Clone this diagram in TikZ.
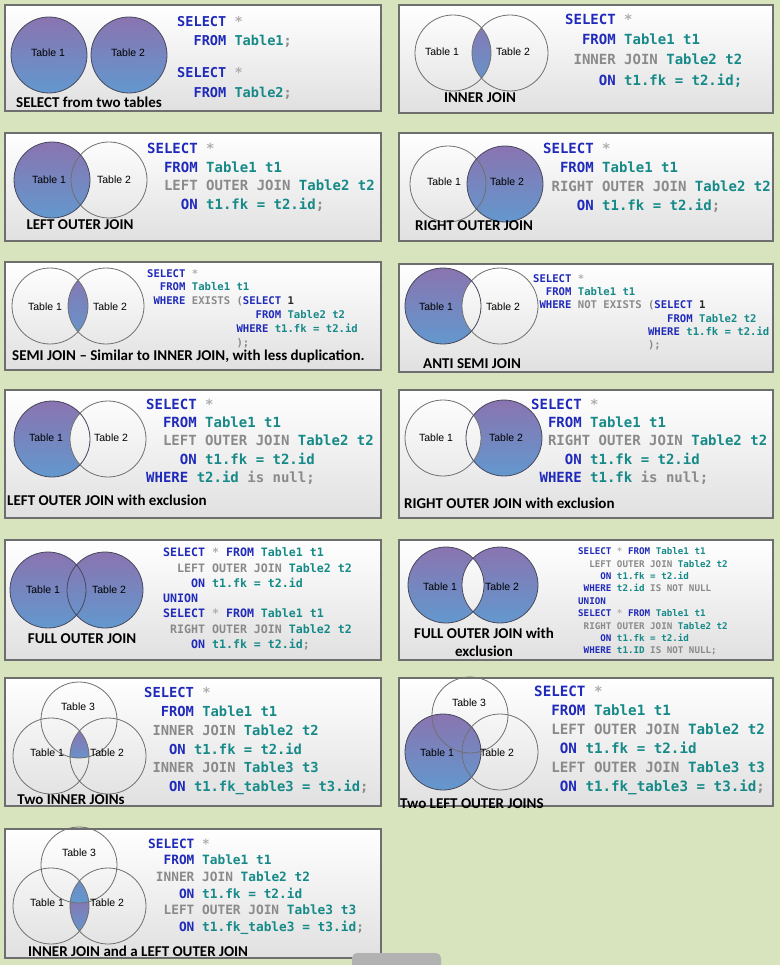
\documentclass[tikz,border=0pt]{standalone}
\usepackage{fontspec}
\setmainfont{Carlito}
\newfontfamily\codefont{DejaVu Sans Mono}
\newfontfamily\tabfont{Liberation Sans}
\definecolor{bggreen}{RGB}{215,228,189}
\definecolor{framegray}{RGB}{110,110,110}
\definecolor{panelgray}{RGB}{224,224,224}
\definecolor{venntop}{RGB}{138,116,176}
\definecolor{vennbot}{RGB}{98,152,206}
\definecolor{ringdark}{RGB}{72,72,92}
\definecolor{ringgray}{RGB}{112,112,112}
\definecolor{kwblue}{RGB}{32,42,186}
\definecolor{tabteal}{RGB}{22,138,136}
\definecolor{joingray}{RGB}{138,138,138}
\definecolor{stargray}{RGB}{175,175,175}
\definecolor{onegray}{RGB}{40,40,40}

\newcommand{\kw}[1]{\textcolor{kwblue}{#1}}
\newcommand{\tb}[1]{\textcolor{tabteal}{#1}}
\newcommand{\jn}[1]{\textcolor{joingray}{#1}}
\newcommand{\str}{\textcolor{stargray}{*}}
\newcommand{\semi}{\textcolor{joingray}{;}}
\newcommand{\ind}[1]{\hskip#1\fontcharwd\font`0\relax}
\newcommand{\codesize}[2]{\codefont\bfseries\fontsize{#1}{#2}\selectfont\frenchspacing}

\begin{document}
\begin{tikzpicture}[x=1pt, y=-1pt,
    panelbg/.style={top color=white, bottom color=panelgray},
    panelframe/.style={draw=framegray, line width=1.2pt},
    venn/.style={top color=venntop, bottom color=vennbot},
    ring/.style={draw=ringgray, line width=0.8pt},
    darkring/.style={draw=ringdark, line width=0.8pt},
    tlabel/.style={font=\tabfont\fontsize{10.5}{11}\selectfont, inner sep=0},
    caption/.style={font=\bfseries\fontsize{15}{16}\selectfont, inner sep=0, anchor=base},
    sqlcode/.style={anchor=north west, inner sep=0, align=left}
  ]
  \fill[bggreen] (0,0) rectangle (780,965);
  \useasboundingbox (0,0) rectangle (780,965);

  % panels
  \foreach \xa/\ya/\xb/\yb in {5/5/381/111, 399/5/773/113, 5/133/381/241, 399/133/773/241,
      5/262/381/370, 399/264/773/372, 5/390/381/518, 399/390/773/518,
      5/540/381/660, 399/540/773/660, 5/678/381/806, 399/678/773/806, 5/829/381/958}{
    \shade[panelbg] (\xa,\ya) rectangle (\xb,\yb);
    \draw[panelframe] (\xa,\ya) rectangle (\xb,\yb);
  }

  % circle centres
  \coordinate (p1a) at (49,55);   \coordinate (p1b) at (129,55);
  \coordinate (p2a) at (453,53);  \coordinate (p2b) at (510,53);
  \coordinate (p3a) at (52,180);  \coordinate (p3b) at (109,180);
  \coordinate (p4a) at (448,184); \coordinate (p4b) at (505,184);
  \coordinate (p5a) at (50,306);  \coordinate (p5b) at (106,306);
  \coordinate (p6a) at (443,306); \coordinate (p6b) at (500,306);
  \coordinate (p7a) at (52,439);  \coordinate (p7b) at (108,439);
  \coordinate (p8a) at (443,438); \coordinate (p8b) at (504,438);
  \coordinate (p9a) at (48,590);  \coordinate (p9b) at (105,590);
  \coordinate (p10a) at (446,585); \coordinate (p10b) at (500,585);
  \coordinate (p11a) at (51,756); \coordinate (p11b) at (108,756); \coordinate (p11c) at (79,720);
  \coordinate (p12a) at (443,752); \coordinate (p12b) at (500,752); \coordinate (p12c) at (470,715);
  \coordinate (p13a) at (51,906); \coordinate (p13b) at (108,906); \coordinate (p13c) at (79,865);

  % shaded parts
  \shade[venn] (p1a) circle (38);
  \shade[venn] (p1b) circle (38);
  \begin{scope}
    \clip (p2b) circle (38);
    \shade[venn] (p2a) circle (38);
  \end{scope}
  \shade[venn] (p3a) circle (38);
  \shade[venn] (p4b) circle (38);
  \begin{scope}
    \clip (p5b) circle (38);
    \shade[venn] (p5a) circle (38);
  \end{scope}
  \shade[venn] (p6a) circle (38);
  \begin{scope}
    \clip (p6a) circle (38);
    \clip (p6b) circle (38);
    \shade[panelbg] (399,264) rectangle (773,372);
  \end{scope}
  \shade[venn] (p7a) circle (38);
  \begin{scope}
    \clip (p7a) circle (38);
    \clip (p7b) circle (38);
    \shade[panelbg] (5,390) rectangle (381,518);
  \end{scope}
  \shade[venn] (p8b) circle (38);
  \begin{scope}
    \clip (p8a) circle (38);
    \clip (p8b) circle (38);
    \shade[panelbg] (399,390) rectangle (773,518);
  \end{scope}
  \shade[venn] (p9a) circle (38);
  \shade[venn] (p9b) circle (38);
  \shade[venn] (p10a) circle (38);
  \shade[venn] (p10b) circle (38);
  \begin{scope}
    \clip (p10a) circle (38);
    \clip (p10b) circle (38);
    \shade[panelbg] (399,540) rectangle (773,660);
  \end{scope}
  \begin{scope}
    \clip (p11a) circle (38);
    \clip (p11b) circle (38);
    \clip (p11c) circle (38);
    \shade[venn] (60,728) rectangle (100,765);
  \end{scope}
  \shade[venn] (p12a) circle (38);
  \begin{scope}
    \clip (p13a) circle (38);
    \clip (p13b) circle (38);
    \shade[venn] (45,895) rectangle (115,935);
    \clip (p13c) circle (38);
    \shade[venn] (p13c) circle (38);
  \end{scope}

  % outlines
  \draw[darkring] (p1a) circle (38) (p1b) circle (38);
  \draw[ring] (p2a) circle (38) (p2b) circle (38);
  \draw[ring] (p3b) circle (38);
  \draw[darkring] (p3a) circle (38);
  \draw[ring] (p4a) circle (38);
  \draw[darkring] (p4b) circle (38);
  \draw[ring] (p5a) circle (38) (p5b) circle (38);
  \draw[ring] (p6b) circle (38);
  \draw[darkring] (p6a) circle (38);
  \draw[ring] (p7b) circle (38);
  \draw[darkring] (p7a) circle (38);
  \draw[ring] (p8a) circle (38);
  \draw[darkring] (p8b) circle (38);
  \draw[darkring] (p9a) circle (38) (p9b) circle (38);
  \draw[darkring] (p10a) circle (38) (p10b) circle (38);
  \draw[ring] (p11a) circle (38) (p11b) circle (38) (p11c) circle (38);
  \draw[darkring] (p12a) circle (38);
  \draw[ring] (p12b) circle (38) (p12c) circle (38);
  \draw[ring] (p13a) circle (38) (p13b) circle (38) (p13c) circle (38);

  % table names
  \node[tlabel] (p1t1) at (48,53) {Table 1};
  \node[tlabel] (p1t2) at (128,53) {Table 2};
  \node[tlabel] (p2t1) at (442,52) {Table 1};
  \node[tlabel] (p2t2) at (513,52) {Table 2};
  \node[tlabel] (p3t1) at (49,180) {Table 1};
  \node[tlabel] (p3t2) at (114,180) {Table 2};
  \node[tlabel] (p4t1) at (444,182) {Table 1};
  \node[tlabel] (p4t2) at (507,182) {Table 2};
  \node[tlabel] (p5t1) at (45,307) {Table 1};
  \node[tlabel] (p5t2) at (110,307) {Table 2};
  \node[tlabel] (p6t1) at (436,307) {Table 1};
  \node[tlabel] (p6t2) at (503,307) {Table 2};
  \node[tlabel] (p7t1) at (46,438) {Table 1};
  \node[tlabel] (p7t2) at (111,438) {Table 2};
  \node[tlabel] (p8t1) at (436,438) {Table 1};
  \node[tlabel] (p8t2) at (506,438) {Table 2};
  \node[tlabel] (p9t1) at (43,590) {Table 1};
  \node[tlabel] (p9t2) at (109,590) {Table 2};
  \node[tlabel] (p10t1) at (440,587) {Table 1};
  \node[tlabel] (p10t2) at (502,587) {Table 2};
  \node[tlabel] (p11t3) at (78,707) {Table 3};
  \node[tlabel] (p11t1) at (47,753) {Table 1};
  \node[tlabel] (p11t2) at (107,753) {Table 2};
  \node[tlabel] (p12t3) at (469,703) {Table 3};
  \node[tlabel] (p12t1) at (437,753) {Table 1};
  \node[tlabel] (p12t2) at (497,753) {Table 2};
  \node[tlabel] (p13t3) at (79,853) {Table 3};
  \node[tlabel] (p13t1) at (47,903) {Table 1};
  \node[tlabel] (p13t2) at (107,903) {Table 2};

  % captions
  \node[caption] (cap1) at (89,108) {SELECT from two tables};
  \node[caption] (cap2) at (480,103) {INNER JOIN};
  \node[caption] (cap3) at (80,230) {LEFT OUTER JOIN};
  \node[caption] (cap4) at (474,231) {RIGHT OUTER JOIN};
  \node[caption, anchor=base west] (cap5) at (12,360) {SEMI JOIN -- Similar to INNER JOIN, with less duplication.};
  \node[caption, anchor=base west] (cap6) at (423,368) {ANTI SEMI JOIN};
  \node[caption, anchor=base west] (cap7) at (7,505) {LEFT OUTER JOIN with exclusion};
  \node[caption, anchor=base west] (cap8) at (404,508) {RIGHT OUTER JOIN with exclusion};
  \node[caption] (cap9) at (82,643) {FULL OUTER JOIN};
  \node[caption, anchor=north, align=center, font=\bfseries\fontsize{15}{17.5}\selectfont] (cap10) at (484,628) {FULL OUTER JOIN with\\exclusion};
  \node[caption] (cap11) at (71,804) {Two INNER JOINs};
  \node[caption, anchor=base west] (cap12) at (400,808) {Two LEFT OUTER JOINS};
  \node[caption, anchor=base west] (cap13) at (28,956) {INNER JOIN and a LEFT OUTER JOIN};

  % sql text
  \node[sqlcode, font=\codesize{13.6}{19.5}] (code1) at (177,16) {\kw{SELECT} \str{}\\
    ~~\kw{FROM} \tb{Table1}\semi\\[12.5pt]
    \kw{SELECT} \str{}\\
    ~~\kw{FROM} \tb{Table2}\semi};
  \node[sqlcode, font=\codesize{14}{20.3}] (code2) at (565,13.8) {\kw{SELECT} \str{}\\
    ~~\kw{FROM} \tb{Table1 t1}\\
    ~\jn{INNER JOIN} \tb{Table2 t2}\\
    ~~~~\kw{ON} \tb{t1.fk = t2.id;}};
  \node[sqlcode, font=\codesize{14}{18.7}] (code3) at (147,142.8) {\kw{SELECT} \str{}\\
    ~~\kw{FROM} \tb{Table1 t1}\\
    ~~\jn{LEFT OUTER JOIN} \tb{Table2 t2}\\
    ~~~~\kw{ON} \tb{t1.fk = t2.id}\semi};
  \node[sqlcode, font=\codesize{14}{19.2}] (code4) at (543,142.8) {\kw{SELECT} \str{}\\
    ~~\kw{FROM} \tb{Table1 t1}\\
    ~\jn{RIGHT OUTER JOIN} \tb{Table2 t2}\\
    ~~~~\kw{ON} \tb{t1.fk = t2.id}\semi};
  \node[sqlcode, font=\codesize{10.6}{13.8}] (code5) at (147,269.1) {\kw{SELECT} \str{}\\
    ~~\kw{FROM} \tb{Table1 t1}\\
    ~\kw{WHERE} \jn{EXISTS (}\kw{SELECT} \textcolor{onegray}{1}\\
    \ind{17}\kw{FROM} \tb{Table2 t2}\\
    \ind{14}\kw{WHERE} \tb{t1.fk = t2.id}\\
    \ind{14}\jn{);}};
  \node[sqlcode, font=\codesize{10.6}{13.3}] (code6) at (533,274.1) {\kw{SELECT} \str{}\\
    ~~\kw{FROM} \tb{Table1 t1}\\
    ~\kw{WHERE} \jn{NOT EXISTS (}\kw{SELECT} \textcolor{onegray}{1}\\
    \ind{21}\kw{FROM} \tb{Table2 t2}\\
    \ind{18}\kw{WHERE} \tb{t1.fk = t2.id}\\
    \ind{18}\jn{);}};
  \node[sqlcode, font=\codesize{14}{18.3}] (code7) at (146,398.8) {\kw{SELECT} \str{}\\
    ~~\kw{FROM} \tb{Table1 t1}\\
    ~~\jn{LEFT OUTER JOIN} \tb{Table2 t2}\\
    ~~~~\kw{ON} \tb{t1.fk = t2.id}\\
    \kw{WHERE} \tb{t2.id} \jn{is null;}};
  \node[sqlcode, font=\codesize{14}{18.3}] (code8) at (531,398.8) {\kw{SELECT} \str{}\\
    ~~\kw{FROM} \tb{Table1 t1}\\
    ~~\jn{RIGHT OUTER JOIN} \tb{Table2 t2}\\
    ~~~~\kw{ON} \tb{t1.fk = t2.id}\\
    ~\kw{WHERE} \tb{t1.fk} \jn{is null;}};
  \node[sqlcode, font=\codesize{11.6}{15.3}] (code9) at (163,547.7) {\kw{SELECT} \str{} \kw{FROM} \tb{Table1 t1}\\
    ~~\jn{LEFT OUTER JOIN} \tb{Table2 t2}\\
    ~~~~\kw{ON} \tb{t1.fk = t2.id}\\
    \kw{UNION}\\
    \kw{SELECT} \str{} \kw{FROM} \tb{Table1 t1}\\
    ~\jn{RIGHT OUTER JOIN} \tb{Table2 t2}\\
    ~~~~\kw{ON} \tb{t1.fk = t2.id}\semi};
  \node[sqlcode, font=\codesize{9.2}{12.4}] (code10) at (578,547.6) {\kw{SELECT} \str{} \kw{FROM} \tb{Table1 t1}\\
    ~~\jn{LEFT OUTER JOIN} \tb{Table2 t2}\\
    ~~~~\kw{ON} \tb{t1.fk = t2.id}\\
    ~\kw{WHERE} \tb{t2.id} \jn{IS NOT NULL}\\
    \kw{UNION}\\
    \kw{SELECT} \str{} \kw{FROM} \tb{Table1 t1}\\
    ~\jn{RIGHT OUTER JOIN} \tb{Table2 t2}\\
    ~~~~\kw{ON} \tb{t1.fk = t2.id}\\
    ~\kw{WHERE} \tb{t1.ID} \jn{IS NOT NULL;}};
  \node[sqlcode, font=\codesize{13.8}{18.9}] (code11) at (144,686.9) {\kw{SELECT} \str{}\\
    ~~\kw{FROM} \tb{Table1 t1}\\
    ~\jn{INNER JOIN} \tb{Table2 t2}\\
    ~~~\kw{ON} \tb{t1.fk = t2.id}\\
    ~\jn{INNER JOIN} \tb{Table3 t3}\\
    ~~~\kw{ON} \tb{t1.fk\_table3 = t3.id}\semi};
  \node[sqlcode, font=\codesize{14.2}{19.1}] (code12) at (534,685.7) {\kw{SELECT} \str{}\\
    ~~\kw{FROM} \tb{Table1 t1}\\
    ~~\jn{LEFT OUTER JOIN} \tb{Table2 t2}\\
    ~~~\kw{ON} \tb{t1.fk = t2.id}\\
    ~~\jn{LEFT OUTER JOIN} \tb{Table3 t3}\\
    ~~~\kw{ON} \tb{t1.fk\_table3 = t3.id}\semi};
  \node[sqlcode, font=\codesize{12.8}{16.7}] (code13) at (148,838.3) {\kw{SELECT} \str{}\\
    ~~\kw{FROM} \tb{Table1 t1}\\
    ~\jn{INNER JOIN} \tb{Table2 t2}\\
    ~~~~\kw{ON} \tb{t1.fk = t2.id}\\
    ~~\jn{LEFT OUTER JOIN} \tb{Table3 t3}\\
    ~~~~\kw{ON} \tb{t1.fk\_table3 = t3.id}\semi};

  % overlay tab at the bottom
  \fill[gray!60, rounded corners=5pt] (352,953) rectangle (441,978);
\end{tikzpicture}
\end{document}
